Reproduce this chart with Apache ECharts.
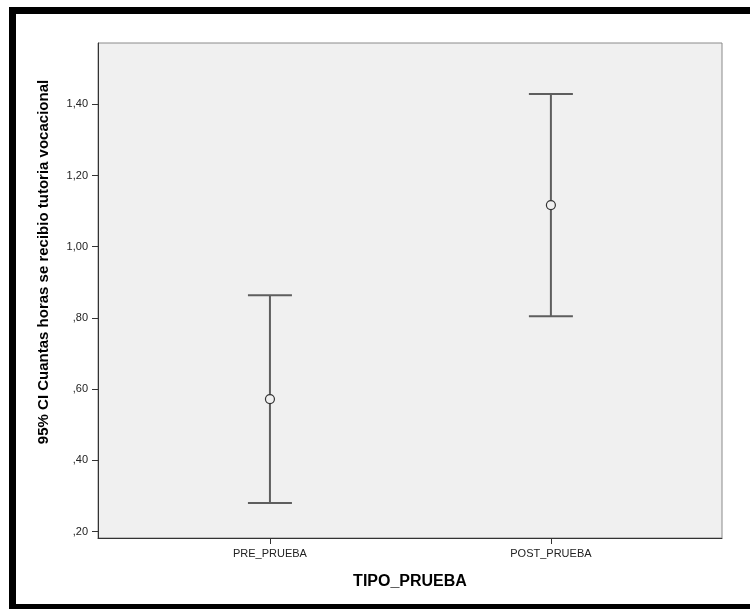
<!DOCTYPE html>
<html>
<head>
<meta charset="utf-8">
<script src="https://cdn.jsdelivr.net/npm/echarts@6/dist/echarts.min.js"></script>
<style>html,body{margin:0;padding:0;background:#fff;}#c{width:750px;height:609px;}</style>
</head>
<body>
<div id="c"></div>
<script>
var categories = ['PRE_PRUEBA', 'POST_PRUEBA'];
var means = [0.572, 1.117];
var lower = [0.280, 0.805];
var upper = [0.864, 1.429];
var yTicks = [0.2, 0.4, 0.6, 0.8, 1.0, 1.2, 1.4];
var yTitle = '95% CI Cuantas horas se recibio tutoria vocacional';
var xTitle = 'TIPO_PRUEBA';

var chart = echarts.init(document.getElementById('c'), null, {renderer: 'canvas'});
var font = 'Liberation Sans, Arial, sans-serif';
function fmt(v) {
  var s = Number(v).toFixed(2).replace('.', ',');
  return s.replace(/^0/, '');
}
var barData = categories.map(function (c, i) { return [i, lower[i], upper[i]]; });
var meanData = categories.map(function (c, i) { return [i, means[i]]; });

chart.setOption({
  animation: false,
  backgroundColor: '#fff',
  grid: {left: 98, right: 28, top: 43, bottom: 71, show: true, backgroundColor: '#f0f0f0', borderColor: '#8a8a8a', borderWidth: 1},
  xAxis: {
    type: 'value', min: -0.612, max: 1.609,
    name: xTitle, nameLocation: 'middle', nameGap: 36,
    nameTextStyle: {fontFamily: font, fontSize: 16, fontWeight: 'bold', color: '#000'},
    splitLine: {show: false},
    axisLine: {show: true, onZero: false, lineStyle: {color: '#333', width: 1}},
    axisTick: {show: true, customValues: [0, 1], length: 6, lineStyle: {color: '#333'}},
    axisLabel: {customValues: [0, 1], formatter: function (v) { return categories[Math.round(v)]; }, fontFamily: font, fontSize: 11, color: '#222', margin: 10}
  },
  yAxis: {
    type: 'value', min: 0.182, max: 1.572,
    splitLine: {show: false},
    axisLine: {show: true, onZero: false, lineStyle: {color: '#333', width: 1}},
    axisTick: {show: true, customValues: yTicks, length: 6, lineStyle: {color: '#333'}},
    axisLabel: {customValues: yTicks, formatter: fmt, fontFamily: font, fontSize: 11, color: '#222', margin: 10}
  },
  graphic: [
    {type: 'rect', shape: {x: 9, y: 7, width: 741, height: 7}, style: {fill: '#000'}},
    {type: 'rect', shape: {x: 9, y: 7, width: 7, height: 602}, style: {fill: '#000'}},
    {type: 'rect', shape: {x: 9, y: 604, width: 741, height: 5}, style: {fill: '#000'}},
    {type: 'text', x: 44, y: 262, rotation: Math.PI / 2,
     style: {text: yTitle, font: 'bold 15px Liberation Sans, Arial, sans-serif', fill: '#000', textAlign: 'center', textVerticalAlign: 'middle'}}
  ],
  series: [
    {
      type: 'custom',
      data: barData,
      renderItem: function (params, api) {
        var x = api.value(0);
        var lo = api.coord([x, api.value(1)]);
        var hi = api.coord([x, api.value(2)]);
        var hw = 22;
        var st = {stroke: '#5e5e5e', lineWidth: 2};
        return {type: 'group', children: [
          {type: 'line', shape: {x1: lo[0], y1: lo[1], x2: hi[0], y2: hi[1]}, style: st},
          {type: 'line', shape: {x1: lo[0] - hw, y1: lo[1], x2: lo[0] + hw, y2: lo[1]}, style: st},
          {type: 'line', shape: {x1: hi[0] - hw, y1: hi[1], x2: hi[0] + hw, y2: hi[1]}, style: st}
        ]};
      },
      z: 2
    },
    {
      type: 'scatter',
      data: meanData,
      symbol: 'circle',
      symbolSize: 9,
      itemStyle: {color: '#f0f0f0', borderColor: '#333', borderWidth: 1.2, opacity: 1},
      z: 3
    }
  ]
});
</script>
</body>
</html>
